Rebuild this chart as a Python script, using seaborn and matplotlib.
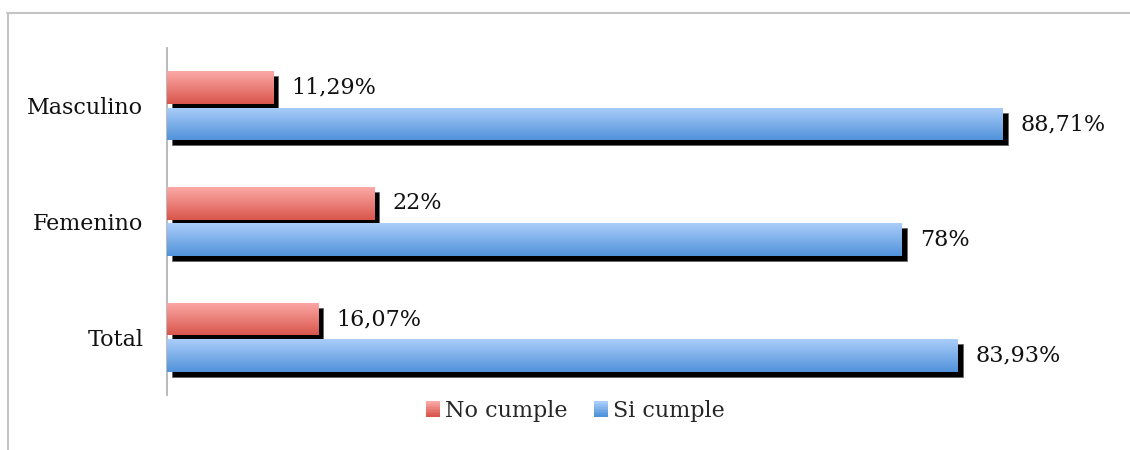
import numpy as np
import pandas as pd
import matplotlib
matplotlib.use("Agg")
import matplotlib.pyplot as plt
import matplotlib.transforms as mtransforms
from matplotlib.colors import LinearSegmentedColormap
from matplotlib.patches import Rectangle
from matplotlib.lines import Line2D
from matplotlib.legend_handler import HandlerBase
import seaborn as sns

categories = ["Masculino", "Femenino", "Total"]
series = ["No cumple", "Si cumple"]
no_cumple = [11.29, 22.0, 16.07]
si_cumple = [88.71, 78.0, 83.93]
no_labels = ["11,29%", "22%", "16,07%"]
si_labels = ["88,71%", "78%", "83,93%"]

grad = {
    "No cumple": ("#FCA9A6", "#D9564C"),
    "Si cumple": ("#AACDFA", "#5193DA"),
}

df = pd.DataFrame({
    "cat": categories * 2,
    "serie": [series[0]] * 3 + [series[1]] * 3,
    "val": no_cumple + si_cumple,
})

sns.set_theme(style="white")
plt.rcParams["font.family"] = ["DejaVu Serif"]
FS = 16

fig = plt.figure(figsize=(11.3, 4.5), dpi=100)
W, H = 1130, 450
ax = fig.add_axes([167 / W, 1 - 395 / H, (1109 - 167) / W, (395 - 48) / H])

mid = {k: v[1] for k, v in grad.items()}
sns.barplot(data=df, x="val", y="cat", hue="serie", order=categories,
            hue_order=series, orient="h", width=0.63, gap=0.1,
            palette=mid, ax=ax, legend=False, errorbar=None)

ax.set_xlim(0, 100)
ax.set_ylim(2.5, -0.5)

shadow_tr = mtransforms.offset_copy(ax.transData, fig=fig, x=5, y=-5, units="dots")
labels_all = {series[0]: no_labels, series[1]: si_labels}
for cont, s in zip(ax.containers, series):
    cmap = LinearSegmentedColormap.from_list(s, [grad[s][0], grad[s][1]])
    for p in cont.patches:
        x0, y0, w, h = p.get_x(), p.get_y(), p.get_width(), p.get_height()
        sh = Rectangle((x0, y0), w, h, transform=shadow_tr, facecolor="black",
                       edgecolor="#666666", linewidth=0.6, zorder=1)
        ax.add_patch(sh)
        p.set_zorder(2)
        p.set_edgecolor("none")
        img = ax.imshow(np.linspace(0, 1, 64).reshape(-1, 1), cmap=cmap,
                        extent=(x0, x0 + w, y0 + h, y0), aspect="auto",
                        zorder=3, interpolation="bilinear")
        img.set_clip_path(p)
    ax.bar_label(cont, labels=labels_all[s], padding=13, fontsize=FS,
                 color="#111111")

ax.set_xlim(0, 100)
ax.set_ylim(2.5, -0.5)
ax.set_xlabel("")
ax.set_ylabel("")
ax.set_xticks([])
ax.tick_params(axis="y", length=0, pad=17, labelsize=FS, labelcolor="#111111")
for sp in ["top", "right", "bottom"]:
    ax.spines[sp].set_visible(False)
ax.spines["left"].set_color("#b4b4b4")
ax.spines["left"].set_linewidth(1.3)
ax.patch.set_alpha(0)


class GradHandler(HandlerBase):
    def __init__(self, c0, c1):
        super().__init__()
        self.c0, self.c1 = c0, c1

    def create_artists(self, legend, orig_handle, xdescent, ydescent, width,
                       height, fontsize, trans):
        cmap = LinearSegmentedColormap.from_list("h", [self.c0, self.c1])
        n = 10
        arts = []
        for i in range(n):
            r = Rectangle((-xdescent, -ydescent + height * (1 - (i + 1) / n)),
                          width, height / n + 0.3,
                          facecolor=cmap(i / (n - 1)), edgecolor="none",
                          transform=trans)
            arts.append(r)
        return arts


handles = [Rectangle((0, 0), 1, 1, color=grad[s][1]) for s in series]
hmap = {h: GradHandler(*grad[s]) for h, s in zip(handles, series)}
fig.legend(handles, series, handler_map=hmap, loc="center",
           bbox_to_anchor=(575 / W, 1 - 411 / H), ncol=2, frameon=False,
           fontsize=FS, handlelength=0.65, handleheight=0.7,
           handletextpad=0.2, columnspacing=1.2)

fig.add_artist(Line2D([7.5 / W, 7.5 / W], [0, 1 - 12.5 / H], color="#c4c4c4",
                      linewidth=1.5, transform=fig.transFigure))
fig.add_artist(Line2D([7 / W, 1], [1 - 12.5 / H, 1 - 12.5 / H],
                      color="#c4c4c4", linewidth=1.5, transform=fig.transFigure))

fig.savefig("out.png", dpi=100)
